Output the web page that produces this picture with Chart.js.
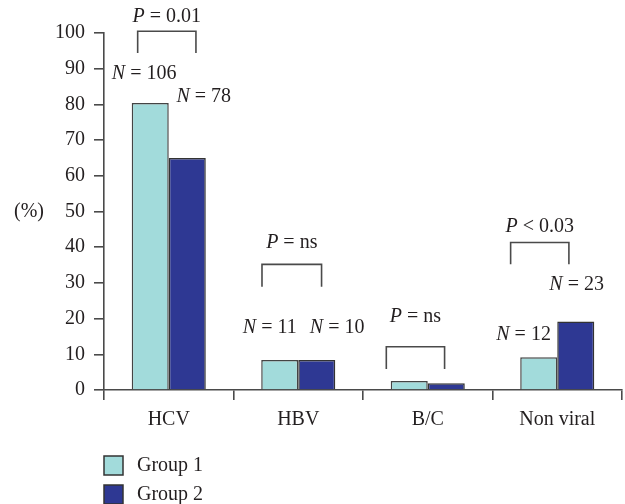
<!DOCTYPE html>
<html>
<head>
<meta charset="utf-8">
<script src="https://cdn.jsdelivr.net/npm/chart.js@4/dist/chart.umd.min.js"></script>
<style>
html,body{margin:0;padding:0;background:#fff;}
#wrap{width:625px;height:504px;position:relative;}
</style>
</head>
<body>
<div id="wrap"><canvas id="c"></canvas></div>
<script>
// ---- data ----
const categories = ['HCV', 'HBV', 'B/C', 'Non viral'];
const seriesNames = ['Group 1', 'Group 2'];
const group1 = [80.4, 8.4, 2.5, 9.2];
const group2 = [65.0, 8.4, 1.9, 19.2];
const yTicks = [0, 10, 20, 30, 40, 50, 60, 70, 80, 90, 100];
const nGroup1 = ['106', '11', null, '12'];
const nGroup2 = ['78', '10', null, '23'];
const pOperators = ['=', '=', '=', '<'];
const pValues = ['0.01', 'ns', 'ns', '0.03'];

// ---- annotation placement (category-width offsets / value levels) ----
const bracketLeft = [-0.24, -0.28, -0.32, -0.36];
const bracketRight = [0.21, 0.18, 0.13, 0.09];
const bracketTop = [100.5, 35.2, 12.1, 41.3];
const bracketLeg = [94.4, 28.9, 5.9, 35.2];
const pLabelY = [104.6, 41.2, 20.4, 45.7];
const n1X = [-0.19, -0.22, 0, -0.26];
const n1Y = [88.7, 17.3, 0, 15.4];
const n2X = [0.27, 0.30, 0, 0.15];
const n2Y = [82.2, 17.3, 0, 29.4];

const FONT = '"Liberation Serif", "Times New Roman", serif';
const FS = 20;
const TXT = '#231f20';
const AX = '#4a4a4a';
const COLORS = ['#a2dbdb', '#2e3893'];

function drawStat(ctx, letter, rest, cx, cy) {
  ctx.font = 'italic ' + FS + 'px ' + FONT;
  const w1 = ctx.measureText(letter).width;
  ctx.font = FS + 'px ' + FONT;
  const w2 = ctx.measureText(rest).width;
  const x0 = cx - (w1 + w2) / 2;
  ctx.textAlign = 'left';
  ctx.textBaseline = 'middle';
  ctx.font = 'italic ' + FS + 'px ' + FONT;
  ctx.fillText(letter, x0, cy);
  ctx.font = FS + 'px ' + FONT;
  ctx.fillText(rest, x0 + w1, cy);
}

const annot = {
  id: 'annot',
  afterDraw(chart) {
    const ctx = chart.ctx;
    const xs = chart.scales.x, ys = chart.scales.y;
    const ca = chart.chartArea;
    const cw = (ca.right - ca.left) / categories.length;
    ctx.save();
    ctx.fillStyle = TXT;
    ctx.strokeStyle = AX;
    ctx.lineWidth = 1.6;
    categories.forEach((c, i) => {
      const cx = xs.getPixelForValue(i);
      const l = cx + bracketLeft[i] * cw, r = cx + bracketRight[i] * cw;
      const t = ys.getPixelForValue(bracketTop[i]), b = ys.getPixelForValue(bracketLeg[i]);
      ctx.beginPath();
      ctx.moveTo(l, b); ctx.lineTo(l, t); ctx.lineTo(r, t); ctx.lineTo(r, b);
      ctx.stroke();
      drawStat(ctx, 'P', ' ' + pOperators[i] + ' ' + pValues[i], (l + r) / 2, ys.getPixelForValue(pLabelY[i]));
      if (nGroup1[i]) drawStat(ctx, 'N', ' = ' + nGroup1[i], cx + n1X[i] * cw, ys.getPixelForValue(n1Y[i]));
      if (nGroup2[i]) drawStat(ctx, 'N', ' = ' + nGroup2[i], cx + n2X[i] * cw, ys.getPixelForValue(n2Y[i]));
    });
    // unit label
    ctx.font = FS + 'px ' + FONT;
    ctx.textAlign = 'center';
    ctx.textBaseline = 'middle';
    ctx.fillText('(%)', ca.left - 75, ys.getPixelForValue(50));
    // legend
    chart.data.datasets.forEach((ds, k) => {
      const y = ca.bottom + 66 + k * 29;
      ctx.fillStyle = ds.backgroundColor;
      ctx.fillRect(ca.left, y, 19, 19);
      ctx.strokeStyle = '#333';
      ctx.lineWidth = 1.5;
      ctx.strokeRect(ca.left, y, 19, 19);
      ctx.fillStyle = TXT;
      ctx.textAlign = 'left';
      ctx.font = FS + 'px ' + FONT;
      ctx.fillText(ds.label, ca.left + 33, y + 10);
    });
    ctx.restore();
  }
};

new Chart(document.getElementById('c'), {
  type: 'bar',
  data: {
    labels: categories,
    datasets: [
      { label: seriesNames[0], data: group1, backgroundColor: COLORS[0], borderColor: '#444', borderWidth: 1.5 },
      { label: seriesNames[1], data: group2, backgroundColor: COLORS[1], borderColor: '#333', borderWidth: 1.5 }
    ]
  },
  options: {
    responsive: true,
    maintainAspectRatio: false,
    animation: false,
    layout: { padding: { top: 33, right: 3, left: 0, bottom: 0 } },
    categoryPercentage: 0.572,
    barPercentage: 1.0,
    plugins: { legend: { display: false }, tooltip: { enabled: false } },
    scales: {
      x: {
        offset: true,
        grid: { offset: true, drawOnChartArea: false, drawTicks: true, tickLength: 10, color: AX, lineWidth: 1.6 },
        border: { display: true, color: AX, width: 1.6 },
        ticks: { color: TXT, font: { family: FONT, size: FS }, padding: 8 },
        afterFit(a) { a.height = 114; }
      },
      y: {
        min: 0, max: 100,
        afterBuildTicks(a) { a.ticks = yTicks.map(v => ({ value: v })); },
        grid: { drawOnChartArea: false, drawTicks: true, tickLength: 10, color: AX, lineWidth: 1.6 },
        border: { display: true, color: AX, width: 1.6 },
        ticks: { color: TXT, font: { family: FONT, size: FS }, padding: 9 },
        afterFit(a) { a.width = 104; }
      }
    }
  },
  plugins: [annot]
});
</script>
</body>
</html>
